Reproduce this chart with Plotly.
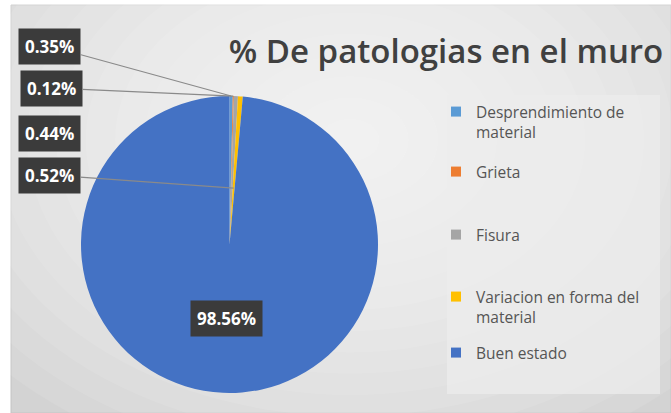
import math
import plotly.graph_objects as go

# ---- data ----
categories = ["Desprendimiento de material", "Grieta", "Fisura",
              "Variacion en forma del material", "Buen estado"]
legend_labels = ["Desprendimiento de<br>material", "Grieta", "Fisura",
                 "Variacion en forma del<br>material", "Buen estado"]
values = [0.35, 0.12, 0.44, 0.52, 98.56]
colors = ["#5B9BD5", "#ED7D31", "#A5A5A5", "#FFC000", "#4472C4"]
title_text = "% De patologias en el muro"

W, H = 671, 413
# pie geometry (pixels)
PCX, PCY, PR = 229.5, 244.5, 148.5

fig = go.Figure()
fig.add_trace(go.Pie(
    labels=categories, values=values, marker=dict(colors=colors, line=dict(width=0)),
    sort=False, direction="clockwise", rotation=0, textinfo="none",
    hoverinfo="label+value", showlegend=False,
    domain=dict(x=[(PCX - PR) / W, (PCX + PR) / W],
                y=[1 - (PCY + PR) / H, 1 - (PCY - PR) / H]),
))

# legend entries, one legend per entry (Excel-like spacing)
legend_tops = [112, 172, 235, 297, 353]  # first-line centres (px)
legend_layouts = {}
for i, (lab, col) in enumerate(zip(legend_labels, colors)):
    key = "legend" if i == 0 else "legend%d" % (i + 1)
    fig.add_trace(go.Scatter(x=[None], y=[None], mode="markers", name=lab,
                             legend=key,
                             marker=dict(symbol="square", size=10, color=col)))
    legend_layouts[key] = dict(x=436 / W, y=1 - (legend_tops[i] - 17) / H,
                               xanchor="left", yanchor="top",
                               bgcolor="rgba(0,0,0,0)", valign="top",
                               font=dict(family="Open Sans", size=15.5, color="#555555"))

# background: base + radial-ish gradient
shapes = [dict(type="rect", xref="paper", yref="paper", x0=11 / W, x1=1, y0=0, y1=1 - 5 / H,
               fillcolor="#d3d3d3", line=dict(color="#c4c4c4", width=1), layer="below")]
gcx, gcy = 350, 140
n = 16
for i in range(n):
    f = 1 - i / n
    rx, ry = 470 * f, 340 * f
    shapes.append(dict(type="circle", xref="paper", yref="paper",
                       x0=(gcx - rx) / W, x1=(gcx + rx) / W,
                       y0=1 - (gcy + ry) / H, y1=1 - (gcy - ry) / H,
                       fillcolor="rgba(255,255,255,0.09)", line=dict(width=0), layer="below"))
# legend panel
shapes.append(dict(type="rect", xref="paper", yref="paper", x0=447 / W, x1=660 / W,
                   y0=1 - 394 / H, y1=1 - 95 / H, fillcolor="rgba(236,236,236,0.75)",
                   line=dict(width=0), layer="below"))

# data labels
total = sum(values)
cum = 0.0
mids = []
for v in values:
    mids.append((cum + v / 2) / total * 2 * math.pi)
    cum += v

label_boxes = [(49, 46, 1.0, True), (51, 88, 1.0, True), (49, 133, 1.0, False),
               (49, 175, 0.38, True)]
annotations = []
lab_font = dict(family="Open Sans", size=17, color="white", weight="bold")
for i, (bx, by, frac, arrow) in enumerate(label_boxes):
    ang = mids[i]
    tx = PCX + frac * PR * math.sin(ang)
    ty = PCY - frac * PR * math.cos(ang)
    txt = "%.2f%%" % values[i]
    if arrow:
        annotations.append(dict(xref="paper", yref="paper", x=tx / W, y=1 - ty / H,
                                ax=bx - tx, ay=by - ty, axref="pixel", ayref="pixel",
                                text=txt, showarrow=True, arrowhead=0, arrowwidth=1.2,
                                arrowcolor="#8a8a8a", bgcolor="#3b3b3b", borderpad=6,
                                font=lab_font, standoff=0))
    else:
        annotations.append(dict(xref="paper", yref="paper", x=bx / W, y=1 - by / H,
                                xanchor="center", yanchor="middle",
                                text=txt, showarrow=False, bgcolor="#3b3b3b", borderpad=6,
                                font=lab_font))
# big slice label at half radius
ang = mids[4]
bx = PCX + 0.5 * PR * math.sin(ang)
by = PCY - 0.5 * PR * math.cos(ang)
annotations.append(dict(xref="paper", yref="paper", x=bx / W, y=1 - by / H,
                        xanchor="center", yanchor="middle",
                        text="%.2f%%" % values[4], showarrow=False,
                        bgcolor="#3b3b3b", borderpad=6, font=lab_font))

fig.update_layout(
    width=W, height=H, margin=dict(l=0, r=0, t=0, b=0),
    paper_bgcolor="white", plot_bgcolor="rgba(0,0,0,0)",
    xaxis=dict(visible=False), yaxis=dict(visible=False),
    title=dict(text=title_text, x=446 / W, xanchor="center", y=1 - 51 / H, yanchor="middle",
               yref="container",
               font=dict(family="Open Sans", size=33, color="#404040", weight=600)),
    shapes=shapes, annotations=annotations,
    **legend_layouts,
)
fig.write_html("out.html", config={"displayModeBar": False},
               post_script="document.body.style.margin='0';")
